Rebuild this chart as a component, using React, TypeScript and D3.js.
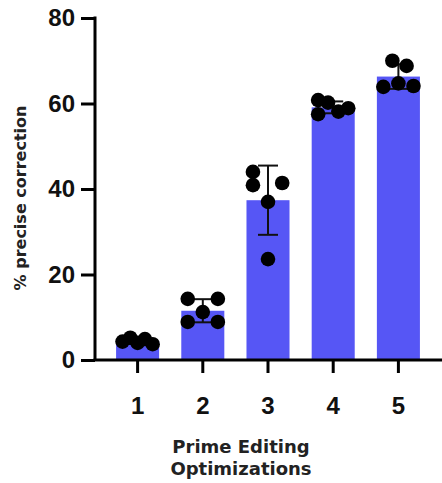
import * as d3 from 'd3'
import { useRef, useEffect } from 'react'

const groups = ['1', '2', '3', '4', '5']
const reps = [
  [4.3, 5.2, 4.0, 4.9, 3.7],
  [14.3, 14.3, 11.2, 8.9, 8.9],
  [44.0, 40.9, 41.4, 37.0, 23.6],
  [60.8, 60.2, 57.5, 58.1, 58.9],
  [70.0, 68.8, 63.9, 64.7, 64.1],
]
// horizontal spread of replicate dots, as fraction of bar width
const spread = [
  [-0.35, -0.17, 0, 0.17, 0.35],
  [-0.35, 0.35, 0, -0.35, 0.35],
  [-0.35, -0.35, 0.33, 0, 0],
  [-0.35, -0.12, -0.35, 0.12, 0.35],
  [-0.14, 0.19, -0.35, 0, 0.35],
]
const yTicks = [0, 20, 40, 60, 80]

export default function App() {
  const svgRef = useRef()
  const width = 442
  const height = 483

  useEffect(() => {
    const svg = d3.select(svgRef.current)
    svg.selectAll('*').remove()

    const x = d3.scaleBand().domain(groups).range([105, 431]).paddingInner(0.34).paddingOuter(0.17)
    const y = d3.scaleLinear().domain([0, 80]).range([360, 18])
    const bw = x.bandwidth()

    const stats = reps.map(v => ({ mean: d3.mean(v), sd: d3.deviation(v) }))

    // bars
    svg.append('g').selectAll('rect')
      .data(groups)
      .join('rect')
      .attr('x', d => x(d))
      .attr('width', bw)
      .attr('y', (d, i) => y(stats[i].mean))
      .attr('height', (d, i) => y(0) - y(stats[i].mean))
      .attr('fill', '#5656f5')

    // error bars
    const eb = svg.append('g').attr('stroke', '#111').attr('stroke-width', 2)
    groups.forEach((g, i) => {
      const cx = x(g) + bw / 2
      const { mean, sd } = stats[i]
      eb.append('line').attr('x1', cx).attr('x2', cx).attr('y1', y(mean + sd)).attr('y2', y(mean - sd))
      eb.append('line').attr('x1', cx - 10).attr('x2', cx + 10).attr('y1', y(mean + sd)).attr('y2', y(mean + sd))
      eb.append('line').attr('x1', cx - 10).attr('x2', cx + 10).attr('y1', y(mean - sd)).attr('y2', y(mean - sd))
    })

    // replicate dots
    const dots = svg.append('g')
    groups.forEach((g, i) => {
      dots.selectAll(null)
        .data(reps[i])
        .join('circle')
        .attr('cx', (d, j) => x(g) + bw / 2 + spread[i][j] * bw)
        .attr('cy', d => y(d))
        .attr('r', 7.3)
        .attr('fill', '#000')
    })

    // y axis
    const yAxis = svg.append('g')
      .attr('transform', 'translate(95,0)')
      .call(d3.axisLeft(y).tickValues(yTicks).tickSize(14).tickPadding(6).tickSizeOuter(0))
    yAxis.select('.domain').attr('stroke', '#000').attr('stroke-width', 3).attr('d', `M0,${y(80) - 1.5}V${y(0)}`)
    yAxis.selectAll('.tick line').attr('stroke', '#000').attr('stroke-width', 3)
    yAxis.selectAll('.tick text')
      .attr('fill', '#111')
      .attr('font-family', 'Liberation Sans, Arial, sans-serif')
      .attr('font-weight', 'bold')
      .attr('font-size', 24)

    // x axis
    const xAxis = svg.append('g')
      .attr('transform', 'translate(0,360)')
      .call(d3.axisBottom(x).tickSize(13).tickPadding(24).tickSizeOuter(0))
    xAxis.select('.domain').attr('stroke', '#000').attr('stroke-width', 3).attr('d', `M93.5,0H442`)
    xAxis.selectAll('.tick line').attr('stroke', '#000').attr('stroke-width', 3)
    xAxis.selectAll('.tick text')
      .attr('fill', '#111')
      .attr('font-family', 'Liberation Sans, Arial, sans-serif')
      .attr('font-weight', 'bold')
      .attr('font-size', 24)

    // axis titles
    svg.append('text')
      .text('% precise correction')
      .attr('transform', 'translate(26,198) rotate(-90)')
      .attr('text-anchor', 'middle')
      .attr('font-family', 'DejaVu Sans, Verdana, sans-serif')
      .attr('font-weight', 'bold')
      .attr('font-size', 16)
      .attr('fill', '#222')

    const xt = svg.append('text')
      .attr('text-anchor', 'middle')
      .attr('font-family', 'DejaVu Sans, Verdana, sans-serif')
      .attr('font-weight', 'bold')
      .attr('font-size', 18)
      .attr('fill', '#222')
    xt.append('tspan').attr('x', 241).attr('y', 453).text('Prime Editing')
    xt.append('tspan').attr('x', 241).attr('y', 475).text('Optimizations')
  }, [])

  return (
    <svg ref={svgRef} width={width} height={height}
      style={{ position: 'absolute', left: 0, top: 0, background: '#fff' }}>
    </svg>
  )
}
